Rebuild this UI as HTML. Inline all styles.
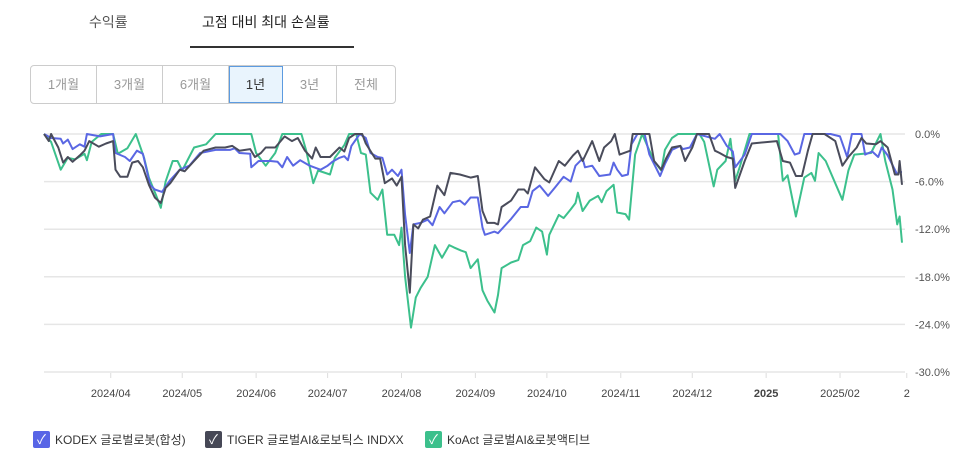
<!DOCTYPE html>
<html><head><meta charset="utf-8">
<style>
body{margin:0;background:#fff;font-family:"Liberation Sans","Noto Sans CJK KR",sans-serif;}
#root{position:relative;width:970px;height:461px;overflow:hidden;}
.tab{position:absolute;top:12px;font-size:14px;color:#555;}
.btns{position:absolute;left:30px;top:65px;height:39px;display:flex;border:1px solid #ccc;border-radius:4px;box-sizing:border-box;overflow:hidden}
.btn{height:37px;line-height:37px;text-align:center;font-size:13px;color:#999;border-right:1px solid #ccc;box-sizing:border-box}
.btn:last-child{border-right:none}
.btn.on{background:#e9f4fd;color:#333;outline:1px solid #5c9be0;outline-offset:-1px}
.leg{position:absolute;top:431px;font-size:12px;color:#333;display:flex;align-items:center}
.cb{width:17px;height:17px;border-radius:2px;margin-right:5px;color:#fff;font-size:13px;line-height:17px;text-align:center}
</style></head><body>
<div id="root">
<div class="tab" style="left:89px">수익률</div>
<div class="tab" style="left:202px;color:#222">고점 대비 최대 손실률</div>
<div style="position:absolute;left:190px;top:46px;width:164px;height:2px;background:#333"></div>
<div class="btns">
<div class="btn" style="width:66px">1개월</div>
<div class="btn" style="width:66px">3개월</div>
<div class="btn" style="width:66px">6개월</div>
<div class="btn on" style="width:54px">1년</div>
<div class="btn" style="width:54px">3년</div>
<div class="btn" style="width:58px">전체</div>
</div>
<svg id="chart" width="970" height="461" style="position:absolute;left:0;top:0"></svg>
<div class="leg" style="left:33px"><div class="cb" style="background:#5865e6">✓</div>KODEX 글로벌로봇(합성)</div>
<div class="leg" style="left:205px"><div class="cb" style="background:#464856">✓</div>TIGER 글로벌AI&amp;로보틱스 INDXX</div>
<div class="leg" style="left:425px"><div class="cb" style="background:#3cc08c">✓</div>KoAct 글로벌AI&amp;로봇액티브</div>
</div>
<script>
const yTicks=[0,-6,-12,-18,-24,-30];
const yTickLabels=["0.0%","-6.0%","-12.0%","-18.0%","-24.0%","-30.0%"];
const xTickDays=[28,58,89,119,150,181,211,242,272,303,334,362];
const xTickLabels=["2024/04","2024/05","2024/06","2024/07","2024/08","2024/09","2024/10","2024/11","2024/12","2025","2025/02","2"];
const kodexDays=[0,3,7,8,10,12,15,17,18,23.5,29,30,34,36,39,41.5,44.5,46.5,49.5,53,57,61,65.5,72,78,80,82,86.5,87,90,95,98,100,102,104.5,107.5,111.5,116,119,121,124,126,127.5,129,132.5,135,137,140,142,144,146,148.5,150,151.5,153.5,155,158,161,163,166,168,171.5,174.5,176.5,179,182,184,185,189,190.5,196,200,203,205,208,211.5,214.5,218,221,223,226,227,230,233,237.5,239,240.5,242.5,245,246.5,249,252,254,258.5,260.5,263.5,267,268,271,274,281.5,283.5,286.5,289,290,294,297,309,312,315,317,319,330,334,337,339,343,344.5,347.5,350,351.5,354,358,359,360];
const kodexVals=[0,0.5,0.6,1.2,0.7,1.9,1.3,1.6,0,0.3,0,2.4,2.9,3.4,2.1,2.5,6.4,7,7.3,5.8,4.5,4,2.4,2,2,1.8,2.4,2.5,4.2,3.4,3.4,3.5,4.2,2.9,4,3.3,4,4.5,4,3.5,3,2.8,3.3,1.5,0,0.5,2.4,2.9,3,5.1,4.5,5.3,4.5,10.2,15,11.4,11.2,10.8,11.5,9.2,10,8.6,8.4,8.9,8,8,11.8,12.7,12.3,12.5,10.7,9.2,9.2,7.2,6.5,7.8,6.7,5.4,6,4,3.1,4.2,4,5.3,5.1,3.6,4.5,5.3,5.1,1.3,0,0,2.6,5.3,3.8,2,1.5,1.9,1.7,0,0.6,0,1.5,2.2,4.2,2.6,0,0,0.9,2.6,2.4,0,0,0.3,2.9,0,0,2.6,2.2,2.9,1.7,2.7,5.1,4.8,4.8];
const tigerDays=[0,2,3,6,8,10,12,15,17,19,23,26,29,30,32,35,37,39.5,41.5,44,46.5,49,51,53,57,59,63,67,72,76,79,82,86.5,88.5,91,93,97,101,104,106.5,109.5,112.5,114,116,120,124,126,128,130.5,133.5,135,139,141,143,146,148,150,151.5,153.5,155,157,159,162,165,168,170.5,174.5,179,182,184,186,189,190.5,192,196,199,201.5,203,206,210,212,216,218.5,222,224,226,230,233,235,238,239.5,241.5,246,247,254,256,259,261,263.5,267,269,272,274,279,281.5,283.5,286.5,289,290,294,297,307.5,310,313,315.5,318,320.5,322.5,327.5,332,335,337.5,341,343,345,349,351,354,357,358.5,359,360];
const tigerVals=[0,0.9,0,1.7,3.6,2.9,3.5,2.7,2.1,0.9,1.6,1.2,0.9,4.5,5.4,5.4,3.6,3.4,4.2,6.4,8,8.7,6.8,6.2,4.5,4.7,3.4,2.1,1.7,1.7,1.5,2.1,1.9,2.9,2.4,1.7,1.7,0.3,0.9,0.5,2.1,3.1,1.7,2.9,2.9,1.7,2.2,0.5,0,0,1.2,3.1,3.1,6.2,5.6,6.5,5.4,14,20,11.4,11.9,10.8,10.4,6.5,7.7,4.9,5.1,5.5,5.3,9.7,11.2,11.2,11.4,9.2,8.4,7,7,7.5,4.2,5.7,6.1,3.4,4,2.7,2.1,3.4,0.9,3.4,1.7,0.9,0,2.6,2.1,0,0,3.4,4.5,3.1,1.7,1.5,3.4,1.7,0,0,2.1,2.4,2.9,3.1,6.8,3.4,1.2,0.9,3.4,3.6,5.3,5.3,2.1,0,0,0.9,4,2.9,1.7,0.5,1.2,1.3,0.9,1.7,5.1,5.1,3.4,6.4];
const koactDays=[0,3,7,10,13,17,18,20,24,29,31,35,38.5,42,44,47,49,51,54,56,58,63,68,72,87,89,93,97,100,108,110,113,115,120,122,126,128,131,133,135,137,140,142,144,147,149,150,151.5,154,156,158,161,164,167,170,172,175,177,179,182,184,186,189,190.5,192,196,199,201,204,206.5,209,211,212,216,218,221,223,224,226,229,232.5,234,236,239,240.5,244,245.5,248,251,253,256,259,260.5,263.5,266,275,277,281,282.5,286,288,290,292,296,308,310,312,315.5,319,322,323.5,325,328,335,337.5,340,347,351,353,356,358,359,360];
const koactVals=[0,1,4.5,3,3.2,2.5,3.3,1,0,0,2.5,1.8,0,3,5.5,7.7,9.3,6,3.4,3.4,4.6,1.7,1.3,0,0,2.4,4,2.4,0,0,2.1,6.2,4.6,5.1,3,1.4,0,0,2.4,2.6,7.4,8.3,7,12.7,12.7,14,11.8,18,24.4,20.6,19.4,18,14,15.6,14,14.3,14.7,14.9,16.9,15.8,19.7,21,22.5,20.3,16.9,16.2,15.9,14,13.5,11.8,12.3,15.2,12.7,10.2,10.6,9.5,8.7,7.4,9.7,8.4,7.8,8.6,7.2,6.4,9.9,10.1,10.8,2.6,0,1.4,3.4,4.6,2,0.5,0,0,1,6.6,4.5,3.4,0.6,5.9,4.1,0,0,5.9,5.2,10.4,5.5,4.9,5.9,2.4,3.4,8.3,4.6,2.6,2.4,0,3.4,7,11.4,10.4,13.7];
const NS="http://www.w3.org/2000/svg";
const svg=document.getElementById('chart');
const X0=44,X1=902,Y0=134,Y1=372;
function xS(d){return X0+(d/360)*(X1-X0);}
function yS(v){return Y0+(v/-30)*(Y1-Y0);}
function mk(t,a){const e=document.createElementNS(NS,t);for(const k in a)e.setAttribute(k,a[k]);svg.appendChild(e);return e;}
yTicks.forEach((t,i)=>{
  const g=mk('line',{x1:X0,x2:905,y1:yS(t),y2:yS(t),stroke:'#e6e6e6','stroke-width':1.5});
  
  
  const tx=mk('text',{x:915,y:yS(t)+4,'font-size':11,fill:'#555','font-family':'Liberation Sans, sans-serif'});
  tx.textContent=yTickLabels[i];
  
  
});
xTickDays.forEach((d,i)=>{
  const tk=mk('line',{x1:xS(d),x2:xS(d),y1:373,y2:378,stroke:'#ddd'});
  
  
  const tx=mk('text',{x:xS(d),y:397,'font-size':11,fill:'#444','text-anchor':'middle','font-family':'Liberation Sans, sans-serif','font-weight':xTickLabels[i]==='2025'?'bold':'normal'});
  tx.textContent=xTickLabels[i];
  
  
});
function line(days,vals,color,name){
  const d=days.map((t,i)=>(i?'L':'M')+xS(t).toFixed(1)+' '+yS(-vals[i]).toFixed(1)).join(' ');
  const p=mk('path',{d:d,fill:'none',stroke:color,'stroke-width':2,'stroke-linejoin':'round'});
  
  
}
line(koactDays,koactVals,'#3cc08c','koact-line');
line(kodexDays,kodexVals,'#5a67e3','kodex-line');
line(tigerDays,tigerVals,'#4a4c5b','tiger-line');
</script>
</body></html>
